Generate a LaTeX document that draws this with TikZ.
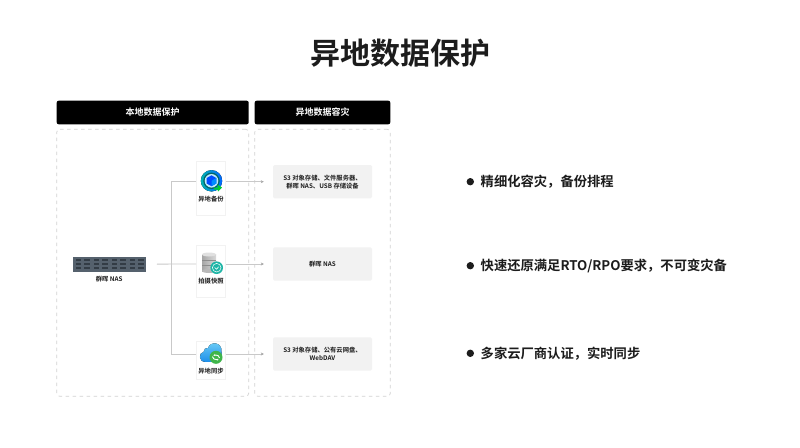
\documentclass[tikz,border=0pt]{standalone}
\usepackage{fontspec}
\setmainfont{Noto Sans CJK SC}[BoldFont={Noto Sans CJK SC Bold}]
\usetikzlibrary{arrows.meta}
\definecolor{inkblack}{HTML}{1C1C1C}
\definecolor{linegrey}{HTML}{C9C9C9}
\definecolor{dashgrey}{HTML}{D2D2D2}
\definecolor{boxgrey}{HTML}{F2F2F2}
\definecolor{nasgrey}{HTML}{55616D}
\definecolor{slotdark}{HTML}{333C45}
\definecolor{cloudtop}{HTML}{6FCFF6}
\definecolor{cloudlow}{HTML}{1E8FEA}
\definecolor{syncgreen}{HTML}{3FB54A}
\definecolor{snapteal}{HTML}{1DB5A6}
\tikzset{
  header/.style={fill=black,text=white,rounded corners=2pt,minimum height=23.6pt,font=\fontsize{9}{11}\selectfont\bfseries},
  zone/.style={draw=dashgrey,line width=0.7pt,dash pattern=on 3.5pt off 3.5pt,rounded corners=3pt,minimum height=267pt},
  target/.style={fill=boxgrey,rounded corners=1.5pt,minimum width=99pt,minimum height=33.4pt,align=center,text=inkblack,font=\fontsize{6.3}{8}\selectfont\bfseries},
  card/.style={draw=black!5,line width=0.5pt,fill=white,minimum width=29.4pt},
  small/.style={text=inkblack,inner sep=0pt,font=\fontsize{6.3}{8}\selectfont\bfseries},
  point/.style={anchor=west,text=inkblack,inner sep=0pt,font=\fontsize{13.3}{16}\selectfont\bfseries},
  dot/.style={circle,fill=inkblack,minimum size=7.4pt,inner sep=0pt},
  link/.style={draw=linegrey,line width=0.9pt},
  linkarrow/.style={link,-{Stealth[length=3pt,width=3pt,color=black!35]}}
}
\begin{document}
\begin{tikzpicture}[x=1pt,y=-1pt]
\useasboundingbox (0,0) rectangle (800,447);
\fill[white] (0,0) rectangle (800,447);

%title
\node (title) at (400.5,53) [text=inkblack,inner sep=0pt,font=\fontsize{30}{34}\selectfont\bfseries] {异地数据保护};

%headers and dashed zones
\node (headlocal) at (152.7,112.5) [header,minimum width=192pt] {本地数据保护};
\node (headremote) at (322.5,112.5) [header,minimum width=135.6pt] {异地数据容灾};
\node (zonelocal) at (152.7,262.8) [zone,minimum width=192pt] {};
\node (zoneremote) at (322.5,262.8) [zone,minimum width=135.6pt] {};

%cards
\node (cardbackup) at (211,188.5) [card,minimum height=53.6pt] {};
\node (cardsnap) at (211,271) [card,minimum height=52.4pt] {};
\node (cardsync) at (211,360.2) [card,minimum height=38pt] {};

%targets
\node (boxbackup) at (322.5,181.7) [target] {S3 对象存储、文件服务器、\\群晖 NAS、USB 存储设备};
\node (boxsnap) at (322.5,264) [target] {群晖 NAS};
\node (boxsync) at (322.5,354) [target] {S3 对象存储、公有云网盘、\\WebDAV};

%NAS
\node (nas) at (109.2,264.2) [fill=nasgrey,minimum width=73pt,minimum height=15pt,inner sep=0pt] {};
\foreach \gx in {75.5,93.5,111.5,129.5}{
  \foreach \gy in {259,263,267}{
    \fill[slotdark] (\gx,\gy) rectangle +(5.5,2);
    \fill[slotdark] (\gx+8,\gy) rectangle +(6,2);
  }
}
\node (naslabel) at (109.2,279) [small] {群晖 NAS};

%connecting them
\coordinate (branchtop) at (171.7,181.7);
\coordinate (branchmid) at (171.7,264);
\coordinate (branchlow) at (171.7,354);
\draw[link] ([xshift=11pt]nas.east) -- (branchmid) -- (cardsnap.west |- branchmid);
\draw[link] (cardbackup.west |- branchtop) -- (branchtop) -- (branchlow) -- (cardsync.west |- branchlow);
\draw[linkarrow] (cardbackup.east |- boxbackup) -- ([xshift=-9pt]boxbackup.west);
\draw[linkarrow] (cardsnap.east |- boxsnap) -- ([xshift=-9pt]boxsnap.west);
\draw[linkarrow] (cardsync.east |- boxsync) -- ([xshift=-9pt]boxsync.west);

%backup icon
\fill[left color=cyan!70!black,right color=blue!60!cyan] (211.5,180.8) circle (10.7);
\fill[teal!80!black] (211.5,180.8) circle (8.2);
\fill[white!75!cyan] (211.5,180.8) circle (6.8);
\fill[blue!70!cyan] (211.5,175.3) -- (216.3,178) -- (216.3,183.5) -- (211.5,186.2) -- (206.7,183.5) -- (206.7,178) -- cycle;
\fill[blue!45!cyan] (211.5,180.8) -- (216.3,178) -- (216.3,183.5) -- (211.5,186.2) -- cycle;
\fill[green!60!teal] (214,187.5) -- (217.5,187.5) -- (217.5,184.5) -- (222,187.5) -- (218,191.5) -- (217.5,189.5) -- (214,189.5) -- cycle;
\node (labelbackup) at (211,199.3) [small] {异地备份};

%snapshot icon
\fill[left color=black!35,right color=black!15] (202,254.5) rectangle (216,271);
\fill[black!12] (209,254.5) ellipse (7 and 2);
\fill[black!45] (202,259.8) rectangle (216,260.5);
\fill[black!45] (202,265.4) rectangle (216,266.1);
\fill[black!28] (209,271) ellipse (7 and 2);
\fill[snapteal] (216.7,267.7) circle (6.3);
\draw[white,line width=0.5pt] (216.7,267.7) circle (4.3);
\draw[white,line width=0.6pt] (214.7,267.4) -- (216.5,269.2) -- (218.7,266.8);
\node (labelsnap) at (211,281.3) [small] {拍摄快照};

%sync icon
\fill[top color=cloudtop,bottom color=cloudlow] (205,361.8) .. controls (198.5,361.8) and (198.5,352.5) .. (203.5,352)
  .. controls (203.5,349) and (206,347.5) .. (208,348) .. controls (210,341) and (222.5,341.5) .. (221.5,352)
  -- (221.5,358) -- (218,361.8) -- cycle;
\fill[syncgreen] (216,357.3) circle (6.5);
\draw[white,line width=0.9pt,-{Stealth[length=1.8pt,width=2.2pt]}] (212.4,356.6) arc (170:50:3.7);
\draw[white,line width=0.9pt,-{Stealth[length=1.8pt,width=2.2pt]}] (219.6,358) arc (-10:-130:3.7);
\node (labelsync) at (211,371) [small] {异地同步};

%bullet points
\node (dotone) at (470.3,181.7) [dot] {};
\node (textone) at (480.5,182) [point] {精细化容灾，备份排程};
\node (dottwo) at (470.3,265.7) [dot] {};
\node (texttwo) at (480.5,266) [point] {快速还原满足RTO/RPO要求，不可变灾备};
\node (dotthree) at (470.3,353.3) [dot] {};
\node (textthree) at (480.5,353.6) [point] {多家云厂商认证，实时同步};
\end{tikzpicture}
\end{document}
